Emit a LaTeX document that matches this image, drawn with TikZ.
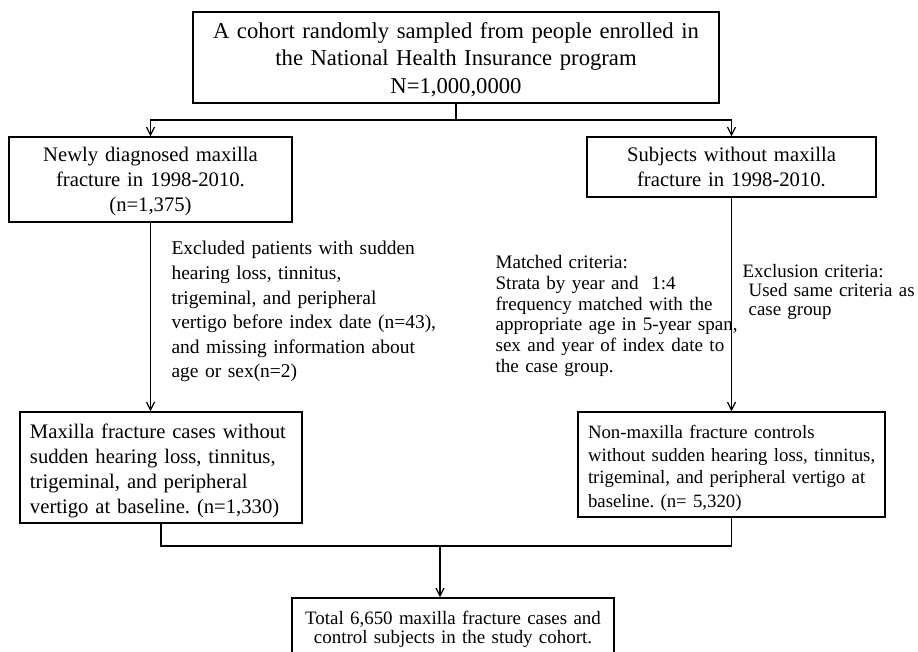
\documentclass[tikz,border=0pt]{standalone}
\usepackage{fontspec}
\setmainfont{Liberation Serif}
\usetikzlibrary{arrows.meta}
\frenchspacing

\begin{document}
\begin{tikzpicture}[x=0.75pt,y=-0.75pt,line width=0.9pt,
    box/.style={draw, inner sep=0pt, anchor=base, align=center},
    leftbox/.style={draw, inner xsep=7.5pt, inner ysep=0pt, anchor=base, align=left},
    note/.style={inner sep=0pt, align=left, anchor=base west},
    arr/.style={-{Straight Barb[length=6pt,width=6pt]}}]
    \useasboundingbox (0,0) rectangle (918,652);
    \clip (0,0) rectangle (918,652);

    \node[box, minimum width=394.5pt, text width=390pt, text height=19.875pt, text depth=48.375pt,
        font=\fontsize{17pt}{20.6pt}\selectfont] (cohort) at (456,38.5)
        {A cohort randomly sampled from people enrolled in\\ the National Health Insurance program\\ N=1,000,0000};

    \node[box, minimum width=212.25pt, text width=205pt, text height=18.75pt, text depth=45pt,
        font=\fontsize{15.5pt}{18.4pt}\selectfont] (newly) at (150.5,162)
        {Newly diagnosed maxilla\\ fracture in 1998-2010.\\ (n=1,375)};
    \node[box, minimum width=216.75pt, text width=210pt, text height=18.75pt, text depth=26.25pt,
        font=\fontsize{15.5pt}{18.75pt}\selectfont] (subj) at (731.5,162)
        {Subjects without maxilla\\ fracture in 1998-2010.};

    \node[note, text width=210pt, font=\fontsize{14.6pt}{18.4pt}\selectfont] (excl) at (171,255)
        {Excluded patients with sudden\\ hearing loss, tinnitus,\\ trigeminal, and peripheral\\
         vertigo before index date (n=43),\\ and missing information about\\ age or sex(n=2)};
    \node[note, text width=190pt, font=\fontsize{14.3pt}{15.5pt}\selectfont] (match) at (495,269)
        {Matched criteria:\\ Strata by year and~ 1:4\\ frequency matched with the\\
         appropriate age in 5-year span,\\ sex and year of index date to\\ the case group.};
    \node[note, text width=140pt, font=\fontsize{14.2pt}{14.25pt}\selectfont] (crit) at (742,278)
        {Exclusion criteria:\\ \hspace*{4.5pt}Used same criteria as\\ \hspace*{4.5pt}case group};

    \node[leftbox, text width=196.5pt, text height=19.5pt, text depth=63.75pt,
        font=\fontsize{15.5pt}{18.75pt}\selectfont] (cases) at (161,438)
        {Maxilla fracture cases without\\ sudden hearing loss, tinnitus,\\ trigeminal, and peripheral\\
         vertigo at baseline. (n=1,330)};
    \node[leftbox, text width=215.25pt, text height=19.5pt, text depth=59.25pt,
        font=\fontsize{14.1pt}{17.25pt}\selectfont] (controls) at (731.5,438)
        {Non-maxilla fracture controls\\ \mbox{without sudden hearing loss, tinnitus,}\\
         trigeminal, and peripheral vertigo at\\ baseline. (n= 5,320)};

    \node[box, minimum width=241.5pt, text width=238pt, text height=19.5pt, text depth=27pt,
        font=\fontsize{14.2pt}{14.25pt}\selectfont] (total) at (453,624)
        {Total 6,650 maxilla fracture cases and\\ control subjects in the study cohort.};

    \coordinate (split) at (456,120);
    \coordinate (merge) at (440,546);

    \draw (cohort) -- (split);
    \draw[arr] (split) -| (newly);
    \draw[arr] (split) -| (subj);
    \draw[arr] (newly.south) -- (newly.south |- cases.north);
    \draw[arr] (subj) -- (controls);
    \draw (cases.south) |- (merge) -| (controls.south);
    \draw[arr] (merge) -- (merge |- total.north);

\end{tikzpicture}
\end{document}
